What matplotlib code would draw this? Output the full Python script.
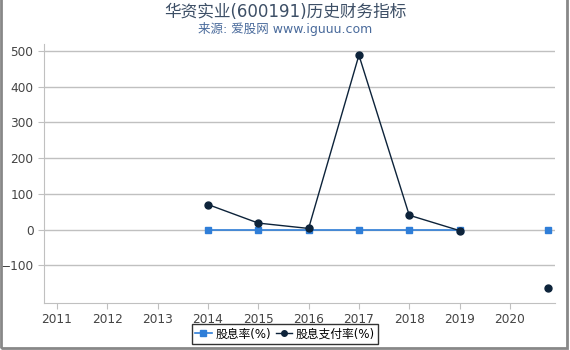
import matplotlib.pyplot as plt
import numpy as np
from matplotlib.patches import Rectangle

plt.rcParams['font.family'] = ['DejaVu Sans', 'Noto Sans CJK SC']

# годовые точки + последний отчёт (2020-09-30), разрыв между ними
years = [2014, 2015, 2016, 2017, 2018, 2019, 2020.0, 2020.75]
div_rate = [0, 0, 0, 0, 0, 0, np.nan, 0]
payout = [70, 18, 3, 488, 40, -3, np.nan, -163]
xticks = list(range(2011, 2021))
yticks = [-100, 0, 100, 200, 300, 400, 500]

fig = plt.figure(figsize=(5.7, 3.5), dpi=100)
ax = fig.add_axes([0.077, 0.135, 0.897, 0.74])

ax.plot(years, div_rate, color='#2f7ed8', marker='s', markersize=5, linewidth=1.2,
        label='股息率(%)', zorder=3)
ax.plot(years, payout, color='#0d233a', marker='o', markersize=5, linewidth=1,
        label='股息支付率(%)', zorder=4)

ax.set_xlim(2010.74, 2020.9)
ax.set_ylim(-205, 520)
ax.set_xticks(xticks)
ax.set_yticks(yticks)
ax.grid(axis='y', color='#c0c0c0', linewidth=1)
ax.set_axisbelow(True)
for s in ['top', 'right']:
    ax.spines[s].set_visible(False)
ax.spines['left'].set_color('#c0c0c0')
ax.spines['bottom'].set_color('#c0c0c0')
ax.tick_params(colors='#c0c0c0', labelcolor='#444444', labelsize=8.7, length=4)

fig.text(0.5, 0.965, '华资实业(600191)历史财务指标', ha='center', va='center',
         fontsize=12, color='#3d4f66')
fig.text(0.5, 0.918, '来源: 爱股网 www.iguuu.com', ha='center', va='center',
         fontsize=9, color='#4a6b9c')

leg = fig.legend(loc='lower center', bbox_to_anchor=(0.5, 0.0), ncol=2, fontsize=8.5,
                 frameon=True, fancybox=False, handlelength=1.4, handletextpad=0.3,
                 columnspacing=0.4, borderpad=0.3, markerscale=0.8)
leg.get_frame().set_edgecolor('black')
leg.get_frame().set_linewidth(1)

# серая рамка вокруг рисунка
fig.patches.append(Rectangle((0.001, 0.005), 0.994, 1.1, transform=fig.transFigure,
                             fill=False, edgecolor='#888888', linewidth=2))

fig.savefig('out.png')
